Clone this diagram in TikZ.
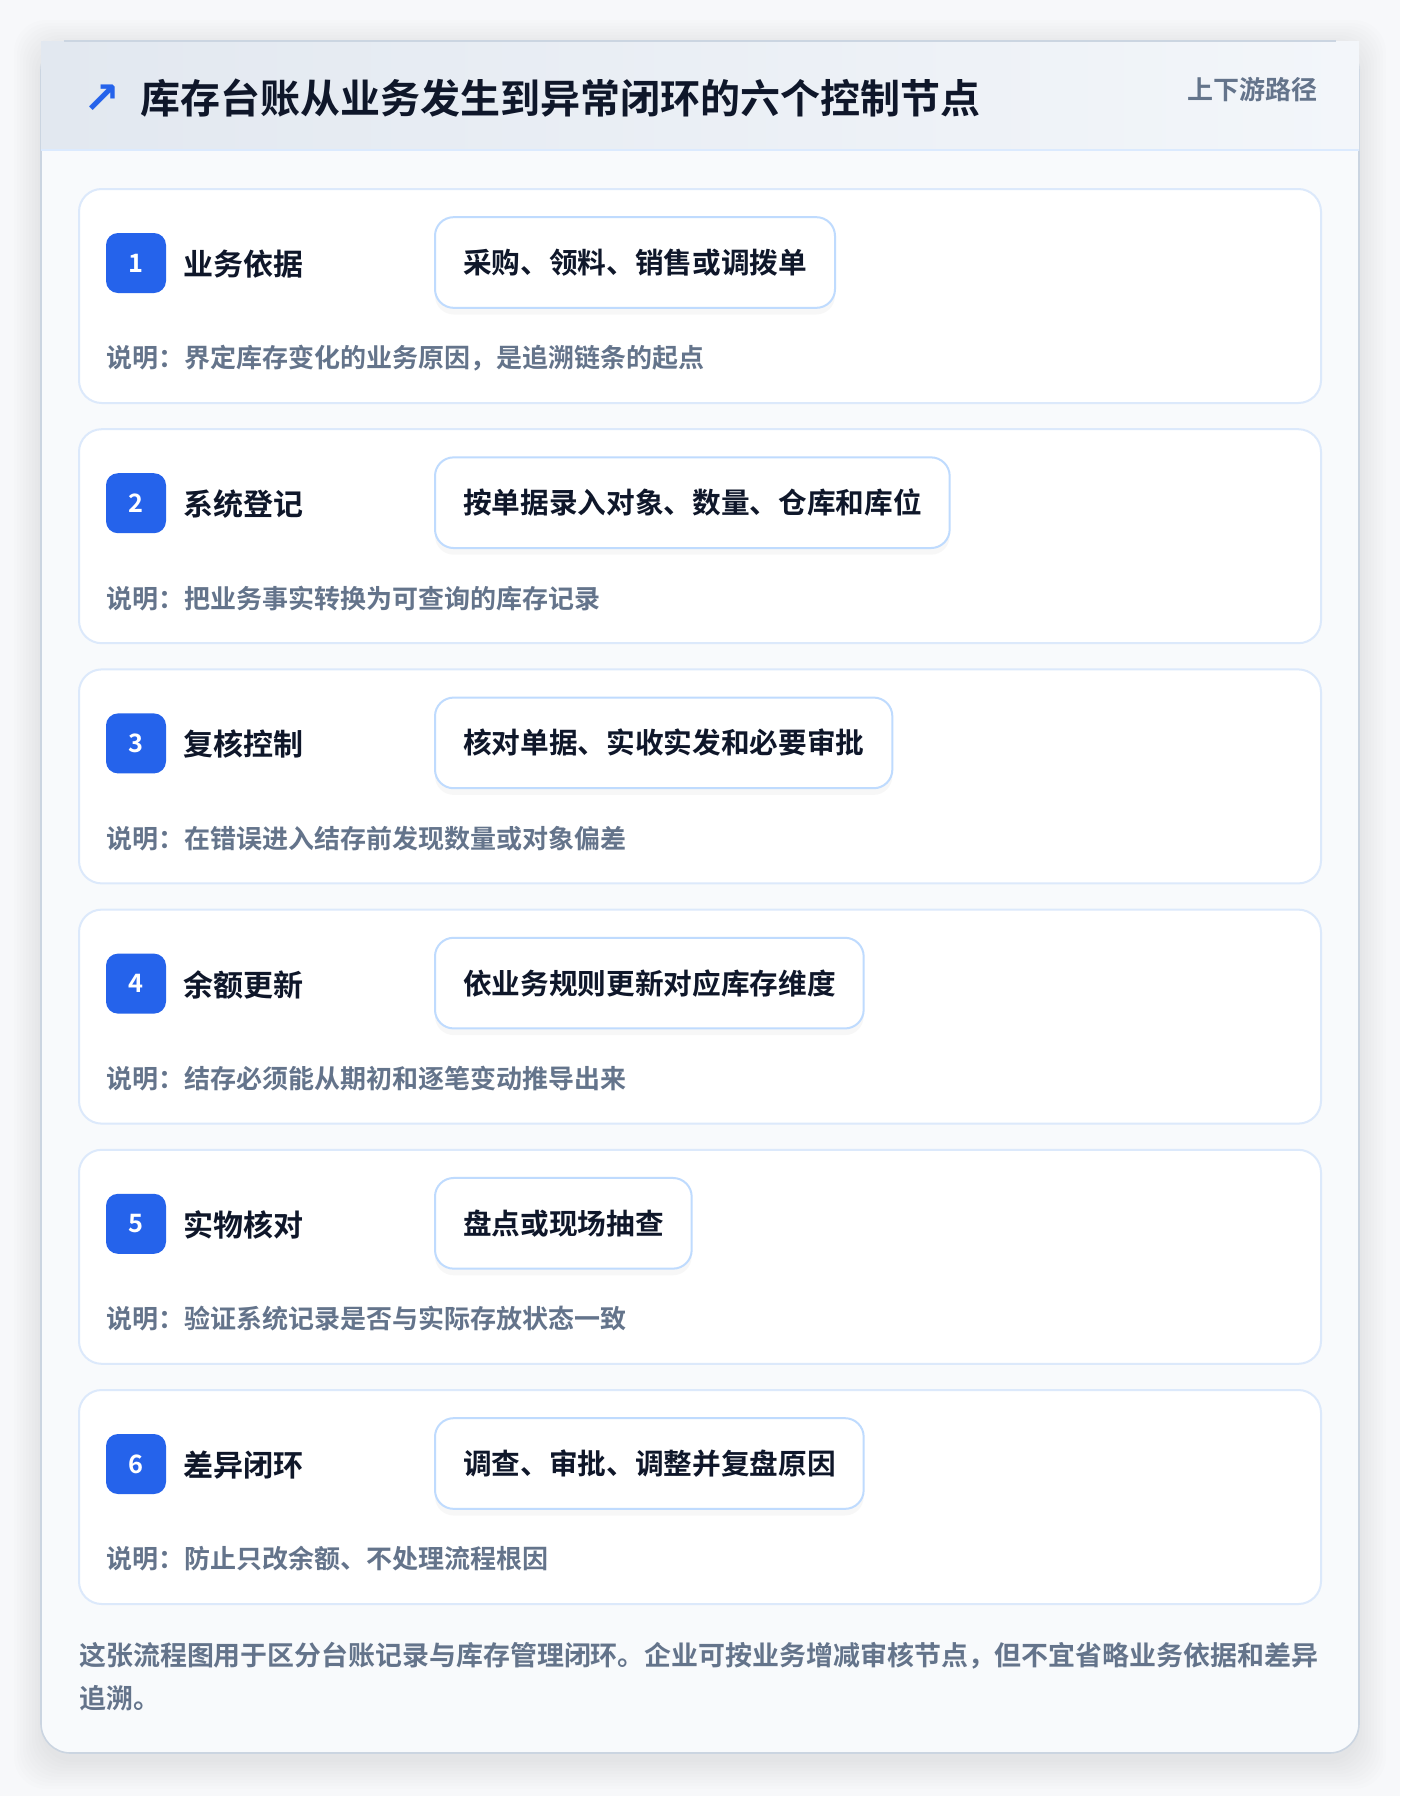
\documentclass[tikz,border=0pt]{standalone}
\usepackage{fontspec}
\setmainfont{Noto Sans CJK SC}[BoldFont={Noto Sans CJK SC Bold}]
\newfontfamily\symfont{DejaVu Sans}
\usetikzlibrary{positioning,shadows}

\definecolor{pagebg}{HTML}{F7F8FA}
\definecolor{panel}{HTML}{F8FAFC}
\definecolor{frame}{HTML}{CBD5E1}
\definecolor{headl}{HTML}{E2E8F0}
\definecolor{headr}{HTML}{F3F6FA}
\definecolor{headsep}{HTML}{DBEAFE}
\definecolor{cardline}{HTML}{DCE9FB}
\definecolor{pillline}{HTML}{BFDBFE}
\definecolor{badgeblue}{HTML}{2563EB}
\definecolor{ink}{HTML}{0F172A}
\definecolor{muted}{HTML}{64748B}

\tikzset{
  card/.style={draw=cardline,fill=white,line width=1.5pt,rounded corners=17pt},
  badge/.style={fill=badgeblue,rounded corners=9pt,minimum size=45pt,inner sep=0pt,
    text=white,font=\bfseries\fontsize{19}{19}\selectfont},
  steptitle/.style={anchor=west,inner sep=0pt,text=ink,font=\bfseries\fontsize{22.5}{24}\selectfont},
  pill/.style={anchor=west,draw=pillline,fill=white,line width=1.5pt,rounded corners=14pt,
    minimum height=68pt,inner xsep=21pt,text=ink,font=\bfseries\fontsize{21.5}{24}\selectfont,
    drop shadow={opacity=0.06,shadow xshift=0pt,shadow yshift=-5pt}},
  note/.style={anchor=west,inner sep=0pt,text=muted,font=\bfseries\fontsize{19.5}{24}\selectfont}
}

\begin{document}
\begin{tikzpicture}[x=0.75pt,y=-0.75pt]
\useasboundingbox (0,0) rectangle (1400,1796);
\fill[pagebg] (0,0) rectangle (1400,1796);

% soft shadow of the panel
\foreach \k in {0,3,...,27}
  \fill[black,opacity=0.007,rounded corners=24pt] (41-\k,47-\k) rectangle (1359+\k,1762+\k);

% panel and header band
\draw[draw=frame,fill=panel,line width=1.2pt,rounded corners=22pt] (41,41) rectangle (1359,1753);
\shade[left color=headl,right color=headr] (41,41) rectangle (1359,150);
\draw[frame,line width=1.5pt] (64,41) -- (1336,41);
\draw[headsep,line width=1.5pt] (41,150) -- (1359,150);

\node[text=badgeblue,font=\symfont\bfseries\fontsize{33}{33}\selectfont] (icon) at (102,99) {↗};
\node[anchor=west,inner sep=0pt,text=ink,font=\bfseries\fontsize{30}{32}\selectfont] (title) at (140,98) {库存台账从业务发生到异常闭环的六个控制节点};
\node[anchor=east,inner sep=0pt,text=muted,font=\bfseries\fontsize{19.5}{20}\selectfont] (route) at (1318,90) {上下游路径};

% six control steps
\foreach \i/\head/\act/\why in {
  1/业务依据/采购、领料、销售或调拨单/界定库存变化的业务原因，是追溯链条的起点,
  2/系统登记/按单据录入对象、数量、仓库和库位/把业务事实转换为可查询的库存记录,
  3/复核控制/核对单据、实收实发和必要审批/在错误进入结存前发现数量或对象偏差,
  4/余额更新/依业务规则更新对应库存维度/结存必须能从期初和逐笔变动推导出来,
  5/实物核对/盘点或现场抽查/验证系统记录是否与实际存放状态一致,
  6/差异闭环/调查、审批、调整并复盘原因/防止只改余额、不处理流程根因} {
  \pgfmathsetmacro\top{189+240.2*(\i-1)}
  \draw[card] (79,\top) rectangle (1321,\top+214);
  \node[badge] (badge\i) at (136,\top+74) {\i};
  \node[steptitle] (head\i) at (183,\top+75) {\head};
  \node[pill] (act\i) at (434,\top+73.5) {\act};
  \node[note] (why\i) at (106,\top+169) {说明：\why};
}

% closing remark
\node[note,font=\bfseries\fontsize{20.2}{24}\selectfont] (foot1) at (79,1656) {这张流程图用于区分台账记录与库存管理闭环。企业可按业务增减审核节点，但不宜省略业务依据和差异};
\node[note,font=\bfseries\fontsize{20.2}{24}\selectfont] (foot2) at (79,1698) {追溯。};

\end{tikzpicture}
\end{document}
